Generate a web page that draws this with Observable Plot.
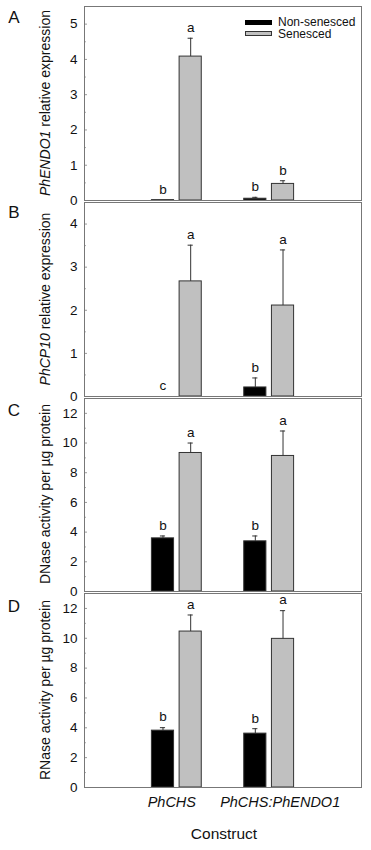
<!DOCTYPE html>
<html>
<head>
<meta charset="utf-8">
<script src="https://cdn.jsdelivr.net/npm/d3@7"></script>
<script src="https://cdn.jsdelivr.net/npm/@observablehq/plot@0.6"></script>
<style>
  html, body { margin: 0; padding: 0; background: #fff; }
  #wrap { position: relative; width: 371px; height: 850px; overflow: hidden; font-family: "Liberation Sans", Arial, sans-serif; color: #111; }
  .svgbox { position: absolute; left: 0; }
  .ylab { position: absolute; transform: translate(-50%, -50%) rotate(-90deg); white-space: nowrap; font-size: 14px; }
  .letter { position: absolute; transform: translate(-50%, -50%); font-size: 17px; white-space: nowrap; }
  .leg { position: absolute; font-size: 12px; line-height: 1; transform: translateY(-50%); white-space: nowrap; }
  .sw { position: absolute; box-sizing: border-box; }
</style>
</head>
<body>
<div id="wrap"></div>
<script>
// ---- data ----
const constructs = ["PhCHS", "PhCHS:PhENDO1"];
const conditions = ["Non-senesced", "Senesced"];

// Panel A: PhENDO1 relative expression
const endo1Non = [0.01, 0.05];
const endo1NonSE = [0, 0.04];
const endo1Sen = [4.08, 0.47];
const endo1SenSE = [0.52, 0.09];
const endo1NonLetters = ["b", "b"];
const endo1SenLetters = ["a", "b"];

// Panel B: PhCP10 relative expression
const cp10Non = [0, 0.21];
const cp10NonSE = [0, 0.22];
const cp10Sen = [2.67, 2.11];
const cp10SenSE = [0.84, 1.29];
const cp10NonLetters = ["c", "b"];
const cp10SenLetters = ["a", "a"];

// Panel C: DNase activity per µg protein
const dnaseNon = [3.58, 3.38];
const dnaseNonSE = [0.16, 0.36];
const dnaseSen = [9.33, 9.13];
const dnaseSenSE = [0.67, 1.68];
const dnaseNonLetters = ["b", "b"];
const dnaseSenLetters = ["a", "a"];

// Panel D: RNase activity per µg protein
const rnaseNon = [3.81, 3.61];
const rnaseNonSE = [0.20, 0.33];
const rnaseSen = [10.45, 9.96];
const rnaseSenSE = [1.11, 1.89];
const rnaseNonLetters = ["b", "b"];
const rnaseSenLetters = ["a", "a"];

// ---- layout ----
const wrap = document.getElementById("wrap");
const FONT = '"Liberation Sans", Arial, sans-serif';

function rowsOf(non, nonSE, sen, senSE, nonL, senL) {
  return constructs.flatMap((c, i) => [
    {construct: c, gi: i, cond: conditions[0], mean: non[i], se: nonSE[i], letter: nonL[i]},
    {construct: c, gi: i, cond: conditions[1], mean: sen[i], se: senSE[i], letter: senL[i]}
  ]);
}

const xc = d => d.gi + 1 + (d.cond === conditions[0] ? -0.15 : 0.15);
const halfW = 0.12;
const capW = 0.028;

function panel(rows, yMax, step, frameTop, frameBottom, showX) {
  const mt = 10, mb = showX ? 30 : 10;
  const majors = d3.range(0, yMax + 1e-9, step);
  const minors = d3.range(step / 2, yMax, step);
  const errRows = rows.filter(d => d.se > 0);
  const marks = [
    Plot.rectY(rows, {
      x1: d => xc(d) - halfW, x2: d => xc(d) + halfW,
      y1: 0, y2: "mean", fill: "cond", stroke: "#333", strokeWidth: 1
    }),
    Plot.ruleX(errRows, {x: xc, y1: "mean", y2: d => d.mean + d.se, stroke: "#333", strokeWidth: 1}),
    Plot.ruleY(errRows, {y: d => d.mean + d.se, x1: d => xc(d) - capW, x2: d => xc(d) + capW, stroke: "#333", strokeWidth: 1}),
    Plot.text(rows, {x: xc, y: d => d.mean + d.se, text: "letter", dy: -10.5, fontSize: 13.5, lineAnchor: "middle", fill: "#111"}),
    Plot.axisY({ticks: majors, tickFormat: d => String(d), tickSize: 0, tickPadding: 7, fontSize: 13.5, label: null, fill: "#111"}),
    Plot.axisY({ticks: majors, tickSize: -3, text: null, label: null, stroke: "#999"}),
    Plot.axisY({ticks: minors, tickSize: -2, text: null, label: null, stroke: "#aaa"}),
    Plot.frame({stroke: "#777", strokeWidth: 1})
  ];
  if (showX) {
    // the two construct labels sit slightly off their group centres in the original
    marks.push(Plot.axisX({
      ticks: [1], tickFormat: v => constructs[v - 1], tickSize: 0, tickPadding: 9, dx: -5,
      fontSize: 14.5, fontStyle: "italic", label: null, fill: "#111"
    }));
    marks.push(Plot.axisX({
      ticks: [2], tickFormat: v => constructs[v - 1], tickSize: 0, tickPadding: 9, dx: 11,
      fontSize: 14.5, fontStyle: "italic", label: null, fill: "#111"
    }));
  }
  const chart = Plot.plot({
    width: 371,
    height: (frameBottom - frameTop) + mt + mb,
    marginLeft: 84, marginRight: 10, marginTop: mt, marginBottom: mb,
    x: {domain: [0, 3], ...(showX ? {} : {axis: null})},
    y: {domain: [0, yMax]},
    color: {domain: conditions, range: ["#000000", "#c0c0c0"]},
    style: {background: "transparent", overflow: "visible", fontFamily: FONT, color: "#111"},
    marks
  });
  const box = document.createElement("div");
  box.className = "svgbox";
  box.style.top = (frameTop - mt) + "px";
  box.appendChild(chart);
  wrap.appendChild(box);
}

panel(rowsOf(endo1Non, endo1NonSE, endo1Sen, endo1SenSE, endo1NonLetters, endo1SenLetters), 5.5, 1, 6, 200, false);
panel(rowsOf(cp10Non, cp10NonSE, cp10Sen, cp10SenSE, cp10NonLetters, cp10SenLetters), 4.5, 1, 202, 396, false);
panel(rowsOf(dnaseNon, dnaseNonSE, dnaseSen, dnaseSenSE, dnaseNonLetters, dnaseSenLetters), 13, 2, 398, 591, false);
panel(rowsOf(rnaseNon, rnaseNonSE, rnaseSen, rnaseSenSE, rnaseNonLetters, rnaseSenLetters), 13, 2, 593, 787, true);

// ---- text overlays ----
function addDiv(cls, html, left, top) {
  const el = document.createElement("div");
  el.className = cls;
  el.innerHTML = html;
  el.style.left = left + "px";
  el.style.top = top + "px";
  wrap.appendChild(el);
  return el;
}
addDiv("letter", "A", 14, 18);
addDiv("letter", "B", 14, 213);
addDiv("letter", "C", 14, 411);
addDiv("letter", "D", 14, 607);

addDiv("ylab", "<i>PhENDO1</i> relative expression", 45, 103);
addDiv("ylab", "<i>PhCP10</i> relative expression", 45, 299);
addDiv("ylab", "DNase activity per µg protein", 45, 494);
addDiv("ylab", "RNase activity per µg protein", 45, 690);

const xl = addDiv("letter", "Construct", 224, 834);
xl.style.fontSize = "15.5px";

// legend
const sw1 = addDiv("sw", "", 245, 19.5);
sw1.style.width = "27px"; sw1.style.height = "5px"; sw1.style.background = "#000";
const sw2 = addDiv("sw", "", 245, 31);
sw2.style.width = "27px"; sw2.style.height = "5px"; sw2.style.background = "#c0c0c0"; sw2.style.border = "1px solid #333";
addDiv("leg", conditions[0], 278, 21.8);
addDiv("leg", conditions[1], 278, 34.2);
</script>
</body>
</html>
